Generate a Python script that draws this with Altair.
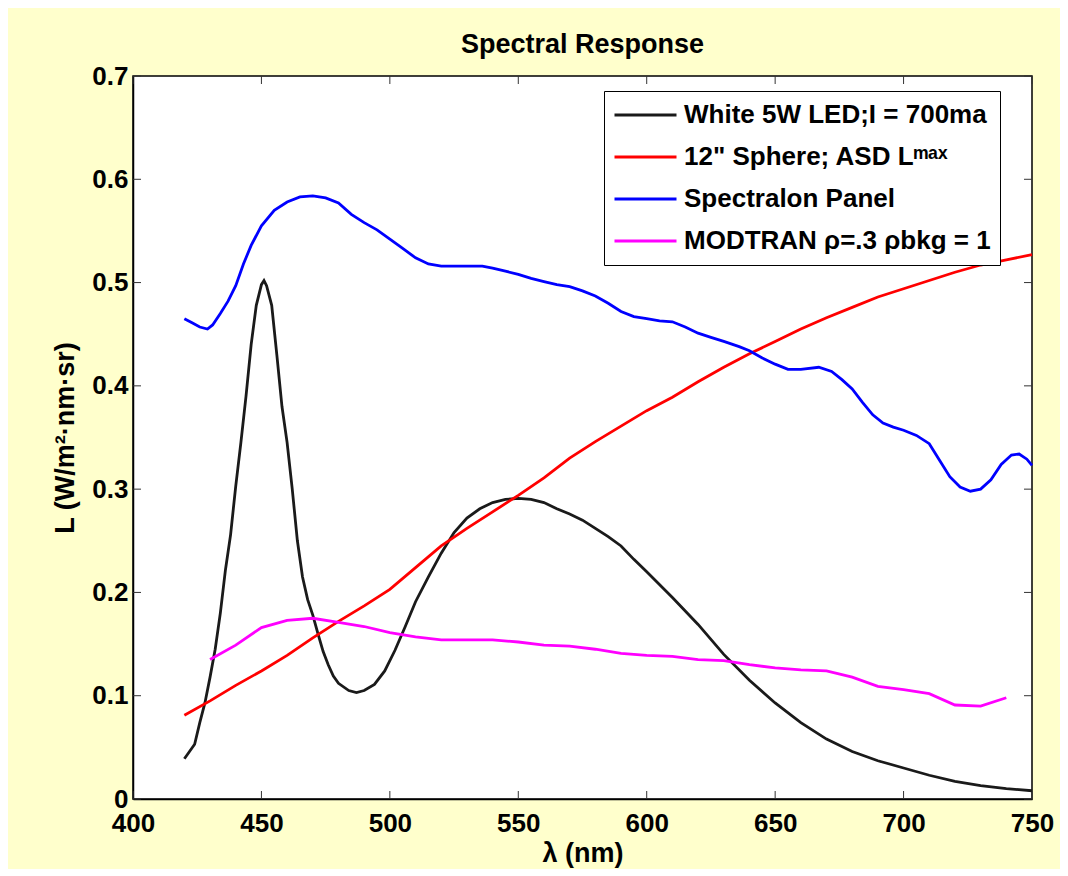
import altair as alt
import pandas as pd

# ---- data ----
led_nm = [420, 422, 424, 426, 428, 430, 432, 434, 436, 438, 440, 442, 444, 446, 448, 450, 451, 452, 454, 456,
          458, 460, 462, 464, 466, 468, 470, 472, 474, 476, 478, 480, 484, 487, 490, 494, 498, 502, 506, 510,
          515, 520, 525, 530, 535, 540, 545, 550, 555, 560, 565, 570, 575, 580, 585, 590, 595, 600, 610, 620,
          630, 640, 650, 660, 670, 680, 690, 700, 710, 720, 730, 740, 750]
led_val = [0.039, 0.046, 0.053, 0.074, 0.093, 0.118, 0.145, 0.180, 0.222, 0.256, 0.303, 0.345, 0.390, 0.440, 0.478, 0.498, 0.502, 0.497, 0.478, 0.430,
           0.380, 0.345, 0.300, 0.250, 0.215, 0.193, 0.178, 0.160, 0.143, 0.130, 0.119, 0.112, 0.105, 0.103, 0.105, 0.111, 0.124, 0.144, 0.167, 0.191,
           0.215, 0.238, 0.258, 0.272, 0.281, 0.287, 0.290, 0.291, 0.290, 0.287, 0.281, 0.276, 0.270, 0.262, 0.254, 0.245, 0.232, 0.220, 0.195, 0.169,
           0.140, 0.115, 0.093, 0.074, 0.058, 0.046, 0.037, 0.030, 0.023, 0.017, 0.013, 0.010, 0.008]

sphere_nm = [420, 430, 440, 450, 460, 470, 480, 490, 500, 510, 520, 530, 540, 550, 560, 570, 580, 590, 600, 610, 620,
             630, 640, 650, 660, 670, 680, 690, 700, 710, 720, 730, 740, 750]
sphere_val = [0.081, 0.095, 0.110, 0.124, 0.139, 0.156, 0.172, 0.187, 0.203, 0.224, 0.245, 0.262, 0.278, 0.294, 0.311, 0.330, 0.346, 0.361, 0.376, 0.389, 0.404,
              0.418, 0.431, 0.443, 0.455, 0.466, 0.476, 0.486, 0.494, 0.502, 0.510, 0.517, 0.522, 0.527]

panel_nm = [420, 423, 426, 429, 431, 434, 437, 440, 443, 446, 450, 455, 460, 465, 470, 475, 480, 485, 490, 495, 500,
            505, 510, 515, 520, 530, 536, 540, 545, 550, 555, 560, 565, 570, 575, 580, 585, 590, 595, 600, 605,
            610, 615, 620, 625, 630, 636, 640, 645, 650, 655, 660, 667, 672, 676, 680, 684, 688, 692, 696, 700,
            705, 710, 714, 718, 722, 726, 730, 734, 738, 742, 745, 748, 750]
panel_val = [0.465, 0.461, 0.457, 0.455, 0.459, 0.470, 0.482, 0.497, 0.518, 0.536, 0.555, 0.570, 0.578, 0.583, 0.584, 0.582, 0.577, 0.566, 0.558, 0.551, 0.542,
             0.533, 0.524, 0.518, 0.516, 0.516, 0.516, 0.514, 0.511, 0.508, 0.504, 0.501, 0.498, 0.496, 0.492, 0.487, 0.480, 0.472, 0.467, 0.465, 0.463,
             0.462, 0.457, 0.451, 0.447, 0.443, 0.438, 0.434, 0.427, 0.421, 0.416, 0.416, 0.418, 0.414, 0.406, 0.397, 0.384, 0.372, 0.364, 0.360, 0.357,
             0.352, 0.344, 0.328, 0.312, 0.302, 0.298, 0.300, 0.309, 0.324, 0.333, 0.334, 0.329, 0.323]

modtran_nm = [430, 440, 450, 460, 470, 480, 490, 500, 510, 520, 530, 540, 550, 560, 570, 580, 590, 600, 610, 620,
              630, 640, 650, 660, 670, 680, 690, 700, 710, 720, 730, 740]
modtran_val = [0.135, 0.149, 0.166, 0.173, 0.175, 0.171, 0.167, 0.161, 0.157, 0.154, 0.154, 0.154, 0.152, 0.149, 0.148, 0.145, 0.141, 0.139, 0.138, 0.135,
               0.134, 0.130, 0.127, 0.125, 0.124, 0.118, 0.109, 0.106, 0.102, 0.091, 0.090, 0.098]

series_names = ["White 5W LED;I = 700ma",
                "12\" Sphere; ASD L\u1d50\u1d43\u02e3",
                "Spectralon Panel",
                "MODTRAN \u03c1=.3 \u03c1bkg = 1"]
series_colors = ["#1a1a1a", "#ff0000", "#0000ff", "#ff00ff"]

x_ticks = [400, 450, 500, 550, 600, 650, 700, 750]
y_ticks = [0, 0.1, 0.2, 0.3, 0.4, 0.5, 0.6, 0.7]

# ---- build table ----
rows = []
for name, xs, ys in zip(series_names,
                        [led_nm, sphere_nm, panel_nm, modtran_nm],
                        [led_val, sphere_val, panel_val, modtran_val]):
    for i, (a, b) in enumerate(zip(xs, ys)):
        rows.append({"series": name, "nm": a, "L": b, "order": i})
df = pd.DataFrame(rows)

FONT = "Liberation Sans"
W, H = 899, 723

xscale = alt.Scale(domain=[400, 750], nice=False, zero=False)
yscale = alt.Scale(domain=[0, 0.7], nice=False, zero=False)

lines = alt.Chart(df).mark_line(strokeWidth=2.8).encode(
    x=alt.X("nm:Q", scale=xscale,
            axis=alt.Axis(values=x_ticks, title="\u03bb (nm)", grid=False, ticks=False, tickSize=0,
                          labelPadding=11, titlePadding=4, labelFlush=False)),
    y=alt.Y("L:Q", scale=yscale,
            axis=alt.Axis(values=y_ticks, title="L (W/m\u00b2\u00b7nm\u00b7sr)", grid=False, ticks=False,
                          tickSize=0, labelPadding=5, titlePadding=12, format=".1~f", labelFlush=False)),
    color=alt.Color("series:N",
                    scale=alt.Scale(domain=series_names, range=series_colors),
                    sort=series_names,
                    legend=alt.Legend(orient="none", legendX=471, legendY=15, title=None,
                                      symbolType="stroke", symbolStrokeWidth=3, symbolSize=3844,
                                      clipHeight=30,
                                      labelFontSize=26, labelFont=FONT, labelFontWeight="bold",
                                      labelColor="black", labelLimit=600, labelOffset=6,
                                      rowPadding=12, padding=9, strokeColor="black",
                                      fillColor="white", symbolOpacity=1)),
    order="order:Q",
)

xt = pd.DataFrame({"t": x_ticks})
yt = pd.DataFrame({"t": y_ticks})
tick_style = dict(color="#333333", strokeWidth=1)
tb = alt.Chart(xt).mark_rule(**tick_style).encode(x=alt.X("t:Q", scale=xscale), y=alt.value(H), y2=alt.value(H - 8))
tt = alt.Chart(xt).mark_rule(**tick_style).encode(x=alt.X("t:Q", scale=xscale), y=alt.value(0), y2=alt.value(8))
tl = alt.Chart(yt).mark_rule(**tick_style).encode(y=alt.Y("t:Q", scale=yscale), x=alt.value(0), x2=alt.value(8))
tr = alt.Chart(yt).mark_rule(**tick_style).encode(y=alt.Y("t:Q", scale=yscale), x=alt.value(W), x2=alt.value(W - 8))

chart = alt.layer(tb, tt, tl, tr, lines).properties(
    width=W, height=H,
    title=alt.TitleParams("Spectral Response", font=FONT, fontSize=27, fontWeight="bold",
                          color="black", anchor="middle", offset=4),
    autosize=alt.AutoSizeParams(type="none"),
    padding={"left": 125, "top": 68, "right": 28, "bottom": 70},
).configure(
    background="#ffffcc",
).configure_view(
    fill="white", stroke="black", strokeWidth=1.5,
).configure_axis(
    labelFont=FONT, labelFontSize=26, labelFontWeight="bold", labelColor="black",
    titleFont=FONT, titleFontSize=27, titleFontWeight="bold", titleColor="black",
    domainColor="black", domainWidth=1.5,
)

chart.save("out.html", embed_options={"renderer": "svg", "actions": False})
